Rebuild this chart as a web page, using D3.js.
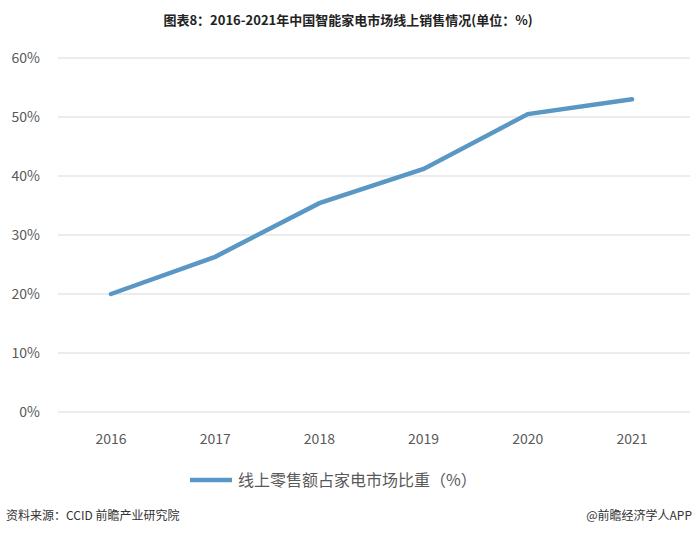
<!DOCTYPE html>
<html><head><meta charset="utf-8">
<script src="https://cdn.jsdelivr.net/npm/d3@7"></script>
<style>body{margin:0;background:#fff;font-family:"Noto Sans CJK SC","Noto Sans",sans-serif}</style>
</head><body>
<script>
const years = ['2016', '2017', '2018', '2019', '2020', '2021']
const share = [20.0, 26.3, 35.4, 41.2, 50.5, 53.0]
const yTicks = [0, 10, 20, 30, 40, 50, 60]

const svg = d3.select('body').append('svg').attr('width', 697).attr('height', 535)

svg.append('text').attr('x', 348).attr('y', 25).attr('text-anchor', 'middle')
	.attr('font-size', 13).attr('font-weight', 'bold').attr('fill', '#222')
	.text('图表8：2016-2021年中国智能家电市场线上销售情况(单位：%)')

let x = d3.scalePoint().domain(years).range([111, 632]).padding(0)
let y = d3.scaleLinear().domain([0, 60]).range([412, 58])

svg.append('g').selectAll('line').data(yTicks).join('line')
	.attr('x1', 58).attr('x2', 690)
	.attr('y1', d => y(d)).attr('y2', d => y(d))
	.attr('stroke', '#d9d9d9')

svg.append('g').selectAll('text').data(yTicks).join('text')
	.attr('x', 40).attr('y', d => y(d) + 5).attr('text-anchor', 'end')
	.attr('font-size', 14).attr('fill', '#595959')
	.text(d => d + '%')

svg.append('g').selectAll('text').data(years).join('text')
	.attr('x', d => x(d)).attr('y', 444).attr('text-anchor', 'middle')
	.attr('font-size', 14).attr('fill', '#595959')
	.text(d => d)

svg.append('path').datum(share)
	.attr('d', d3.line().x((d, i) => x(years[i])).y(d => y(d)))
	.attr('fill', 'none').attr('stroke', '#5b97c4').attr('stroke-width', 4.5)
	.attr('stroke-linecap', 'round')

svg.append('line').attr('x1', 190).attr('x2', 232).attr('y1', 480).attr('y2', 480)
	.attr('stroke', '#5b97c4').attr('stroke-width', 4.5)
svg.append('text').attr('x', 238).attr('y', 486).attr('font-size', 16).attr('fill', '#595959')
	.text('线上零售额占家电市场比重（%）')

svg.append('text').attr('x', 6).attr('y', 520).attr('font-size', 12).attr('fill', '#333')
	.text('资料来源：CCID 前瞻产业研究院')
svg.append('text').attr('x', 692).attr('y', 520).attr('text-anchor', 'end')
	.attr('font-size', 12).attr('fill', '#333').text('@前瞻经济学人APP')
</script>
</body></html>
